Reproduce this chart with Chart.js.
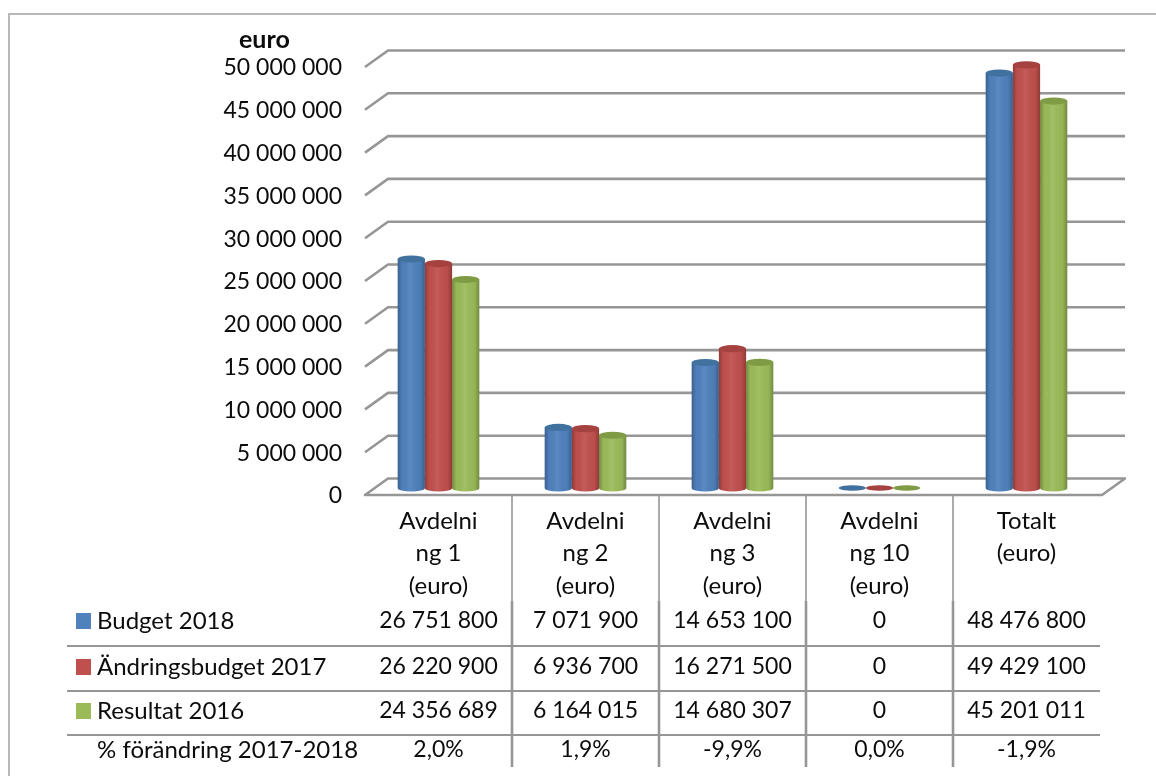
<!DOCTYPE html>
<html><head><meta charset="utf-8">
<style>html,body{margin:0;padding:0;background:#fff}canvas{display:block}</style>
<script src="https://cdn.jsdelivr.net/npm/chart.js@4/dist/chart.umd.min.js"></script>
</head><body><canvas id="c" width="1156" height="776"></canvas>
<script>
const categories=[["Avdelni","ng 1","(euro)"],["Avdelni","ng 2","(euro)"],["Avdelni","ng 3","(euro)"],["Avdelni","ng 10","(euro)"],["Totalt","(euro)"]];
const seriesNames=["Budget 2018","Ändringsbudget 2017","Resultat 2016"];
const budget2018=[26751800,7071900,14653100,0,48476800];
const andringsbudget2017=[26220900,6936700,16271500,0,49429100];
const resultat2016=[24356689,6164015,14680307,0,45201011];
const changeLabel="% förändring 2017-2018";
const changePct=["2,0%","1,9%","-9,9%","0,0%","-1,9%"];
const colors=["#4F81BD","#C0504D","#9BBB59"];
const capColors=["#41719f","#a5413e","#7f9c45"];
const FONT='Lato, "Open Sans", sans-serif';
const LINE="#969696";
const TEXT="#0c0c0c";
const fmt=v=>String(Math.round(v)).replace(/\B(?=(\d{3})+(?!\d))/g," ");
const rows=[budget2018,andringsbudget2017,resultat2016];

const wall={id:'wall',beforeDatasetsDraw(ch){
  const {ctx,scales:{x,y}}=ch;const L=x.left,R=x.right;
  ctx.save();ctx.strokeStyle=LINE;ctx.lineWidth=2.6;ctx.lineJoin='round';
  y.ticks.forEach(t=>{const p=y.getPixelForValue(t.value);
    ctx.beginPath();ctx.moveTo(L,p+7);ctx.lineTo(L+23,p-9.5);ctx.lineTo(R+25,p-9.5);
    if(t.value===0){ctx.lineTo(R+2,p+7);ctx.closePath();}
    ctx.stroke();});
  ctx.restore();
},
afterDatasetsDraw(ch){
  const {ctx}=ch;ctx.save();
  ch.data.datasets.forEach((d,i)=>{
    ch.getDatasetMeta(i).data.forEach(b=>{
      const w=b.width,l=b.x-w/2,ry=3.6,top=Math.min(b.y,b.base),base=b.base;
      const g=ctx.createLinearGradient(l,0,l+w,0);
      g.addColorStop(0,'rgba(0,0,0,.26)');g.addColorStop(.16,'rgba(0,0,0,.02)');
      g.addColorStop(.45,'rgba(255,255,255,.07)');g.addColorStop(.82,'rgba(0,0,0,.03)');g.addColorStop(1,'rgba(0,0,0,.26)');
      if(base-top>0.5){
        ctx.fillStyle=colors[i];ctx.beginPath();ctx.ellipse(b.x,base,w/2,ry,0,0,Math.PI);ctx.fill();
        ctx.fillStyle=g;ctx.fillRect(l,top,w,base-top);
        ctx.beginPath();ctx.ellipse(b.x,base,w/2,ry,0,0,Math.PI);ctx.fill();
      }
      ctx.fillStyle=capColors[i];ctx.beginPath();ctx.ellipse(b.x,top,w/2,ry-(base-top>0.5?0:0.8),0,0,Math.PI*2);ctx.fill();
    });
  });
  ctx.restore();
},
afterDraw(ch){
  const {ctx,scales:{x,y}}=ch;const L=x.left,R=x.right,cw=(R-L)/categories.length;
  const Y0=y.getPixelForValue(0)+7;
  const rowY=[621,667,711,750],lineY=[646,691,735];
  ctx.save();
  // frame
  ctx.strokeStyle="#b8b8b8";ctx.lineWidth=2;
  ctx.beginPath();ctx.moveTo(9,776);ctx.lineTo(9,14);ctx.lineTo(1156,14);ctx.stroke();
  // table lines
  ctx.strokeStyle=LINE;
  for(let i=1;i<=4;i++){const px=L+cw*i;
    ctx.lineWidth=1.6;ctx.beginPath();ctx.moveTo(px,Y0);ctx.lineTo(px,601);ctx.stroke();
    ctx.lineWidth=2.6;ctx.beginPath();ctx.moveTo(px,601);ctx.lineTo(px,767);ctx.stroke();}
  ctx.lineWidth=2;
  lineY.forEach(py=>{ctx.beginPath();ctx.moveTo(67,py);ctx.lineTo(R,py);ctx.stroke();});
  // text
  ctx.textBaseline='middle';
  seriesNames.forEach((n,r)=>{
    ctx.fillStyle=colors[r];ctx.fillRect(76,rowY[r]-8,15,16);
    ctx.fillStyle=TEXT;ctx.textAlign='left';ctx.font='24px '+FONT;ctx.fillText(n,97,rowY[r]);
    ctx.textAlign='center';ctx.font='23px '+FONT;
    rows[r].forEach((v,c)=>ctx.fillText(fmt(v),L+cw*(c+.5),rowY[r]));
  });
  ctx.fillStyle=TEXT;ctx.textAlign='left';ctx.font='24px '+FONT;ctx.fillText(changeLabel,97,rowY[3]);
  ctx.textAlign='center';ctx.font='23px '+FONT;changePct.forEach((t,c)=>ctx.fillText(t,L+cw*(c+.5),rowY[3]));
  ctx.font='bold 25px '+FONT;ctx.textAlign='left';ctx.fillText("euro",239,40);
  ctx.restore();
}};

new Chart(document.getElementById('c'),{type:'bar',
  data:{labels:categories,datasets:seriesNames.map((n,i)=>({label:n,data:rows[i],backgroundColor:colors[i],borderWidth:0,categoryPercentage:.555,barPercentage:1}))},
  options:{responsive:false,animation:false,devicePixelRatio:1,
    layout:{padding:{left:0,right:56,top:60,bottom:0}},
    plugins:{legend:{display:false},tooltip:{enabled:false},title:{display:false}},
    scales:{
      x:{afterFit(s){s.height=288},grid:{display:false,drawTicks:false},border:{display:false},
         ticks:{color:TEXT,maxRotation:0,autoSkip:false,padding:17,font:{family:FONT,size:24,lineHeight:1.354}}},
      y:{min:0,max:50000000,afterFit(s){s.width=365},grid:{display:false,drawTicks:false},border:{display:false},
         ticks:{stepSize:5000000,color:TEXT,padding:23,labelOffset:8,callback:v=>fmt(v),font:{family:FONT,size:23}}}
    }},
  plugins:[wall]});
</script></body></html>
